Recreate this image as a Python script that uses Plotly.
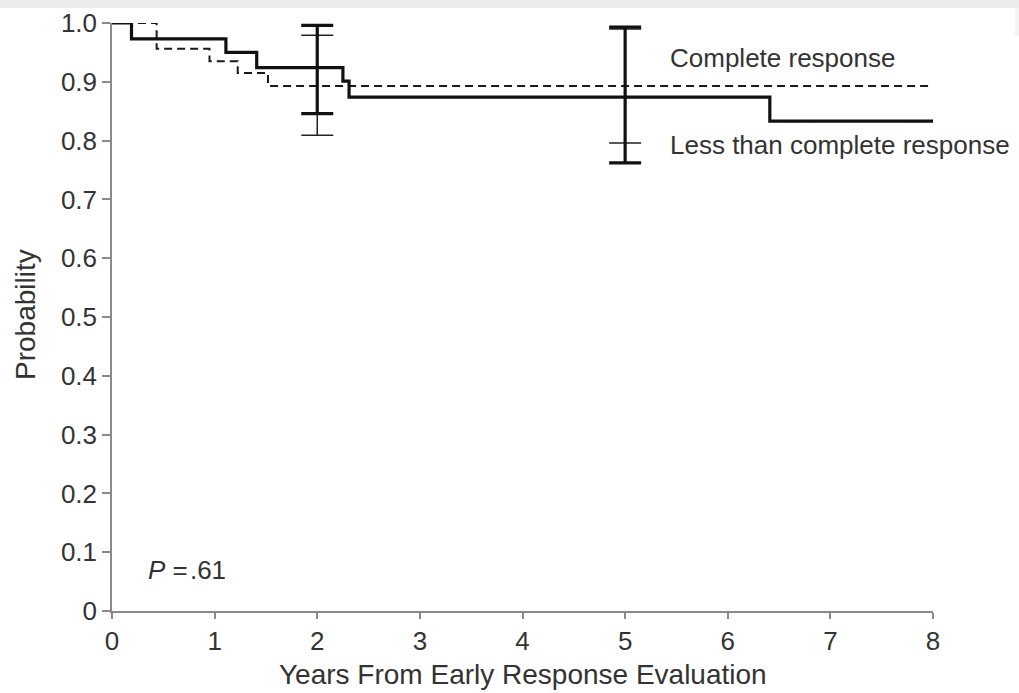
import plotly.graph_objects as go

# Kaplan-Meier step curves
cr_time = [0, 0.435, 0.95, 1.225, 1.52, 8]
cr_surv = [1.0, 0.956, 0.935, 0.915, 0.893, 0.893]

lcr_time = [0, 0.19, 1.11, 1.41, 2.25, 2.31, 6.41, 8]
lcr_surv = [1.0, 0.973, 0.950, 0.924, 0.901, 0.874, 0.833, 0.833]

# Confidence intervals at 2 and 5 years
ci_time = [2, 5]
cr_ci_mid = [0.893, 0.893]
cr_ci_low = [0.809, 0.796]
cr_ci_high = [0.979, 0.990]
lcr_ci_mid = [0.924, 0.874]
lcr_ci_low = [0.846, 0.762]
lcr_ci_high = [0.996, 0.993]

x_ticks = [0, 1, 2, 3, 4, 5, 6, 7, 8]
y_ticks = [0, 0.1, 0.2, 0.3, 0.4, 0.5, 0.6, 0.7, 0.8, 0.9, 1.0]
y_ticktext = ["0"] + [f"{v:.1f}" for v in y_ticks[1:]]

FONT = "Liberation Sans, Arial, Helvetica, sans-serif"
TEXT = "#333333"
AXIS = "#8a8a8a"

W, H = 1019, 693
L, R, T, B = 112, 86, 23, 82

fig = go.Figure()

fig.add_trace(go.Scatter(
    x=cr_time, y=cr_surv, mode="lines", line_shape="hv",
    line=dict(color="#1a1a1a", width=2, dash="8px,5px"),
    cliponaxis=False, showlegend=False, hoverinfo="skip"))

fig.add_trace(go.Scatter(
    x=lcr_time, y=lcr_surv, mode="lines", line_shape="hv",
    line=dict(color="#111111", width=3.2),
    cliponaxis=False, showlegend=False, hoverinfo="skip"))

# Thin bars: complete response
fig.add_trace(go.Scatter(
    x=ci_time, y=cr_ci_mid, mode="markers", marker=dict(size=1, opacity=0),
    error_y=dict(type="data", symmetric=False,
                 array=[h - m for h, m in zip(cr_ci_high, cr_ci_mid)],
                 arrayminus=[m - l for m, l in zip(cr_ci_mid, cr_ci_low)],
                 color="#222222", thickness=1.5, width=16),
    cliponaxis=False, showlegend=False, hoverinfo="skip"))

# Thick bars: less than complete response
fig.add_trace(go.Scatter(
    x=ci_time, y=lcr_ci_mid, mode="markers", marker=dict(size=1, opacity=0),
    error_y=dict(type="data", symmetric=False,
                 array=[h - m for h, m in zip(lcr_ci_high, lcr_ci_mid)],
                 arrayminus=[m - l for m, l in zip(lcr_ci_mid, lcr_ci_low)],
                 color="#111111", thickness=3.2, width=16),
    cliponaxis=False, showlegend=False, hoverinfo="skip"))

pw = W - L - R
ph = H - T - B

def px_x(p):
    return (p - L) / pw

def px_y(p):
    return (H - B - p) / ph

annots = [
    dict(x=5.42, y=0.94, text="Complete response", xanchor="left", yanchor="middle"),
    dict(x=5.42, y=0.792, text="Less than complete response", xanchor="left", yanchor="middle"),
    dict(x=0.33, y=0.07, text="<i>P</i> =\u200a.61", xanchor="left", yanchor="middle"),
]
for a in annots:
    fig.add_annotation(xref="x", yref="y", showarrow=False,
                       font=dict(family=FONT, size=26, color=TEXT), **a)

# Axis titles
fig.add_annotation(xref="paper", yref="paper", x=0.5, y=px_y(674),
                   text="Years From Early Response Evaluation", showarrow=False,
                   xanchor="center", yanchor="middle", borderpad=0,
                   font=dict(family=FONT, size=28, color=TEXT))
fig.add_annotation(xref="paper", yref="paper", x=px_x(25), y=px_y(315),
                   text="Probability", showarrow=False, textangle=-90,
                   xanchor="center", yanchor="middle",
                   font=dict(family=FONT, size=28, color=TEXT))

fig.add_shape(type="rect", xref="paper", yref="paper",
              x0=px_x(0), x1=px_x(W), y0=px_y(8), y1=px_y(0),
              fillcolor="#ececec", line_width=0, layer="below")
fig.add_shape(type="rect", xref="paper", yref="paper",
              x0=px_x(1015), x1=px_x(W), y0=px_y(36), y1=px_y(8),
              fillcolor="#f3f3f3", line_width=0, layer="below")

fig.update_layout(
    width=W, height=H,
    margin=dict(l=L, r=R, t=T, b=B, autoexpand=False),
    paper_bgcolor="white", plot_bgcolor="white",
    font=dict(family=FONT, size=26, color=TEXT),
    xaxis=dict(range=[0, 8], tickvals=x_ticks, ticktext=[str(v) for v in x_ticks],
               showgrid=False, zeroline=False, showline=True, automargin=False,
               linecolor=AXIS, linewidth=1.5, ticks="outside", ticklen=6,
               tickcolor=AXIS, tickwidth=1.5,
               tickfont=dict(family=FONT, size=26, color=TEXT)),
    yaxis=dict(range=[0, 1], tickvals=y_ticks, ticktext=y_ticktext,
               showgrid=False, zeroline=False, showline=True, automargin=False,
               linecolor=AXIS, linewidth=1.5, ticks="outside", ticklen=8,
               tickcolor=AXIS, tickwidth=1.5,
               tickfont=dict(family=FONT, size=26, color=TEXT)),
)

fig.write_html("out.html")
